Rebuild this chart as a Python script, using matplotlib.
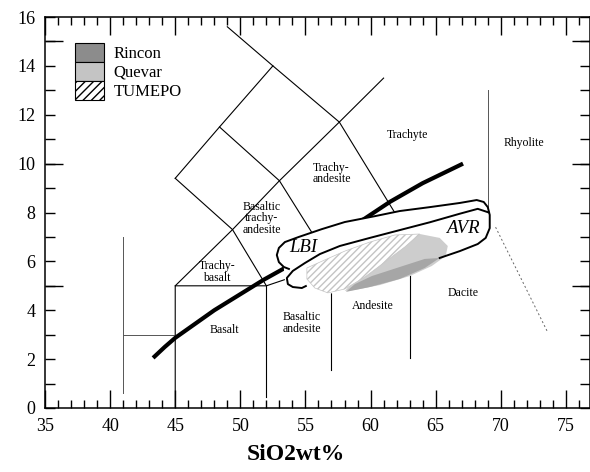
import numpy as np
import matplotlib
matplotlib.use("Agg")
import matplotlib.pyplot as plt
from matplotlib.patches import Patch, Polygon
from matplotlib.ticker import FixedLocator, MultipleLocator, FuncFormatter

plt.rcParams['font.family'] = ['Liberation Serif', 'DejaVu Serif']

# --- TAS field boundaries (SiO2, Na2O+K2O) ---
tas_black = [
    ([45, 48.4, 52.5], [9.4, 11.5, 14.0]),
    ([49, 52.5, 57.6, 63], [15.6, 14.0, 11.7, 7.0]),
    ([45, 49.4, 52], [9.4, 7.3, 5.0]),
    ([45, 49.4, 53, 57.6, 61], [5.0, 7.3, 9.3, 11.7, 13.5]),
    ([48.4, 53, 57], [11.5, 9.3, 5.9]),
    ([45, 45, 52, 57, 63, 69], [0, 5.0, 5.0, 5.9, 7.0, 8.0]),
    ([52, 52], [0.45, 5.0]),
    ([57, 57], [1.55, 5.9]),
    ([63, 63], [2.05, 7.0]),
]
tas_grey = [
    ([41, 41], [0.6, 7.0]),
    ([41, 45], [3.0, 3.0]),
    ([69, 69], [7.5, 13.0]),
]
dotted_x = [69.6, 73.6]
dotted_y = [7.4, 3.1]

# alkaline / subalkaline divide
alk_x = [43.3, 44.2, 45, 48, 51.8, 55, 58, 61.5, 64, 67.1]
alk_y = [2.05, 2.5, 2.87, 4.0, 5.25, 6.2, 7.2, 8.44, 9.2, 10.0]

# LBI / AVR envelope
env_x = [52.8, 52.96, 53.42, 54.49, 56.26, 58.02, 60.33, 62.24, 64.55, 66.85, 68.15,
         68.69, 69.0, 69.15, 69.15, 68.84, 68.23, 66.85, 65.31, 64.7, 63.01, 60.71,
         58.79, 58.02, 56.64, 55.72, 54.72, 53.8, 53.42, 53.34, 52.96]
env_y = [6.26, 6.55, 6.79, 7.0, 7.32, 7.61, 7.85, 8.06, 8.22, 8.39, 8.51,
         8.43, 8.22, 7.9, 7.36, 6.96, 6.71, 6.42, 6.14, 5.81, 5.4, 5.03,
         4.83, 4.72, 4.68, 4.88, 4.87, 4.93, 5.24, 5.73, 5.97]
outer_x = [53.73, 53.34, 52.96, 52.8, 52.96, 53.42, 54.49, 56.26, 58.02, 60.33, 62.24,
           64.55, 66.85, 68.15, 68.69, 69.0, 69.15, 69.15, 68.84, 68.23, 66.85, 65.31]
outer_y = [5.69, 5.77, 5.97, 6.26, 6.55, 6.79, 7.0, 7.32, 7.61, 7.85, 8.06,
           8.22, 8.39, 8.51, 8.43, 8.22, 7.9, 7.36, 6.96, 6.71, 6.42, 6.14]
inner_x = [69.08, 68.23, 66.85, 64.55, 62.24, 59.94, 57.64, 56.11, 54.95, 54.03,
           53.57, 53.65, 54.03, 54.72, 55.03]
inner_y = [8.0, 8.15, 7.95, 7.6, 7.28, 6.96, 6.63, 6.30, 5.93, 5.61,
           5.32, 5.07, 4.95, 4.91, 4.99]

# sample fields
tumepo_x = [55.11, 56.49, 58.02, 59.94, 61.86, 63.78, 62.63, 61.09, 59.56, 58.02, 56.72, 55.72, 55.11]
tumepo_y = [5.73, 6.06, 6.42, 6.79, 7.08, 7.12, 6.59, 5.97, 5.36, 4.87, 4.71, 4.91, 5.28]
quevar_x = [61.86, 63.78, 65.31, 65.93, 65.77, 64.70, 63.01, 60.71, 58.79, 58.02, 59.02, 60.33, 61.32]
quevar_y = [7.04, 7.12, 6.96, 6.63, 6.22, 5.81, 5.40, 5.03, 4.83, 4.79, 5.32, 5.97, 6.55]
rincon_x = [58.10, 59.94, 62.24, 64.16, 65.31, 64.16, 62.24, 60.10, 58.79]
rincon_y = [4.75, 4.95, 5.28, 5.73, 6.14, 6.10, 5.77, 5.40, 5.07]

field_names = ["Trachyte", "Rhyolite", "Trachy-\nandesite", "Basaltic\ntrachy-\nandesite",
               "Trachy-\nbasalt", "Basalt", "Basaltic\nandesite", "Andesite", "Dacite"]
field_x = [62.8, 71.8, 57.0, 51.65, 48.2, 48.8, 54.7, 60.2, 67.1]
field_y = [11.17, 10.84, 9.6, 7.77, 5.57, 3.19, 3.48, 4.17, 4.7]

legend_labels = ["Rincon", "Quevar", "TUMEPO"]

fig = plt.figure(figsize=(5.9, 4.72), dpi=100)
ax = fig.add_axes([45 / 590, 64 / 472, 545 / 590, 391 / 472])

for xs, ys in tas_black:
    ax.plot(xs, ys, color='black', lw=0.8, zorder=1)
for xs, ys in tas_grey:
    ax.plot(xs, ys, color='#555555', lw=0.7, zorder=1)
ax.plot(dotted_x, dotted_y, color='#666666', lw=0.7, ls=(0, (2, 2.5)), zorder=1)

ax.plot(alk_x, alk_y, color='black', lw=3, solid_capstyle='butt', zorder=2)

ax.add_patch(Polygon(np.column_stack([env_x, env_y]), closed=True,
                     facecolor='white', edgecolor='none', zorder=3))
ax.add_patch(Polygon(np.column_stack([quevar_x, quevar_y]), closed=True,
                     facecolor='#cdcdcd', edgecolor='none', zorder=4))
ax.add_patch(Polygon(np.column_stack([rincon_x, rincon_y]), closed=True,
                     facecolor='#a6a6a6', edgecolor='none', zorder=4))
ax.add_patch(Polygon(np.column_stack([tumepo_x, tumepo_y]), closed=True,
                     facecolor='white', edgecolor='#c4c4c4', hatch='/////',
                     lw=0.5, zorder=4))

ax.plot(outer_x, outer_y, color='black', lw=1.4, zorder=5)
ax.plot(inner_x, inner_y, color='black', lw=1.4, zorder=5)

for name, x, y in zip(field_names, field_x, field_y):
    ax.text(x, y, name, fontsize=8.5, ha='center', va='center', linespacing=0.95, zorder=6)
ax.text(54.8, 6.55, "LBI", fontsize=13.5, style='italic', ha='center', va='center', zorder=6)
ax.text(67.1, 7.36, "AVR", fontsize=13.5, style='italic', ha='center', va='center', zorder=6)

handles = [Patch(facecolor='#8c8c8c', edgecolor='black', lw=0.8),
           Patch(facecolor='#c4c4c4', edgecolor='black', lw=0.8),
           Patch(facecolor='white', edgecolor='black', hatch='////', lw=0.8)]
ax.legend(handles, legend_labels, loc='upper left', bbox_to_anchor=(0.055, 0.9335),
          frameon=False, fontsize=12, handlelength=1.75, handleheight=1.35,
          labelspacing=0.0, handletextpad=0.55, borderaxespad=0, borderpad=0)

ax.set_xlim(35, 76.85)
ax.set_ylim(0, 16)
ax.xaxis.set_major_locator(MultipleLocator(5))
ax.xaxis.set_minor_locator(MultipleLocator(1))
ax.yaxis.set_major_locator(FixedLocator(list(range(17))))
ax.yaxis.set_major_formatter(FuncFormatter(lambda v, p: f"{int(v)}" if int(v) % 2 == 0 else ""))
ax.yaxis.set_minor_locator(FixedLocator([5, 10, 15]))
ax.yaxis.remove_overlapping_locs = False

ax.tick_params(which='both', direction='in', top=True, right=True, width=1.0, labelsize=13, pad=7)
ax.tick_params(axis='x', which='major', length=13)
ax.tick_params(axis='x', which='minor', length=6)
ax.tick_params(axis='y', which='major', length=7)
ax.tick_params(axis='y', which='minor', length=13)
for s in ax.spines.values():
    s.set_linewidth(1.1)

ax.set_xlabel("SiO2wt%", fontsize=17, fontweight='bold')
ax.xaxis.set_label_coords(0.46, -0.093)

fig.savefig("out.png", dpi=100)
